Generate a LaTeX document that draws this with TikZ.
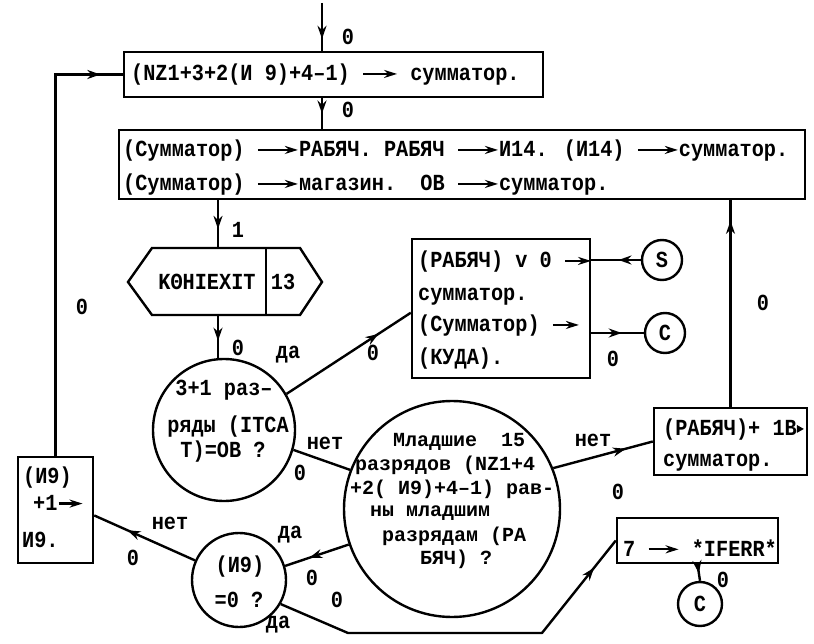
\documentclass[tikz,border=0pt]{standalone}
\usepackage{fontspec}
\newfontfamily\tw[FakeStretch=0.88]{Liberation Mono}
\newfontfamily\twn{Liberation Mono}
\usetikzlibrary{arrows.meta,decorations.markings,calc}
\newcommand\tarr[1]{\tikz[baseline=-7pt]\draw[line width=2.2pt,-{Stealth[length=13pt,width=8pt]}](0pt,0pt)--(#1,0pt);}
\newcommand\tcut{\tikz[baseline=-7pt]\fill(0pt,-4pt)--(7pt,0pt)--(0pt,4pt)--cycle;}
\begin{document}
\begin{tikzpicture}[x=1pt,y=-1pt,
  txt/.style={font=\tw\bfseries\fontsize{23}{26}\selectfont, inner sep=0pt},
  btxt/.style={font=\twn\bfseries\fontsize{20}{23}\selectfont, inner sep=0pt},
  box/.style={draw, line width=2.4pt, inner sep=0pt},
  circ/.style={draw, circle, line width=2.4pt, inner sep=0pt, font=\tw\bfseries\fontsize{23}{26}\selectfont},
  conn/.style={line width=2.4pt},
  marr/.style={decoration={markings, mark=at position #1 with {\arrow{Stealth[length=13pt,width=9pt]}}}, postaction={decorate}}]
\useasboundingbox (0,0) rectangle (814,644);
\fill[white] (0,0) rectangle (814,644);

% boxes
\node[box, minimum width=419pt, minimum height=45pt] (b1) at (333.5,74.5) {};
\node[box, minimum width=686pt, minimum height=69pt] (b2) at (462,164.5) {};
\node[box, minimum width=178pt, minimum height=139pt] (b3) at (501,308.5) {};
\node[box, minimum width=153pt, minimum height=67pt] (b4) at (730.5,441.5) {};
\node[box, minimum width=75pt, minimum height=106pt] (b9) at (55.5,510) {};
\node[box, minimum width=161pt, minimum height=45pt] (b5) at (697.5,540.5) {};

% circles
\node[circ, minimum size=142pt] (c1) at (224,430) {};
\node[circ, minimum size=216pt] (big) at (452,509) {};
\node[circ, minimum size=94pt] (c2) at (239,580) {};
\node[circ, minimum size=40pt] (S) at (662,260) {S};
\node[circ, minimum size=40pt] (C1) at (665,333) {C};
\node[circ, minimum size=44pt] (C2) at (700,604) {C};

% hexagon
\draw[line width=2.4pt, line join=miter] (128,282) -- (152,248) -- (300,248) -- (322,282) -- (300,315) -- (152,315) -- cycle;
\draw[line width=2.4pt] (266,248) -- (266,315);
\coordinate (hxT) at (218,248);
\coordinate (hxB) at (218,315);
\coordinate (top) at (322,3);
\coordinate (k1) at (348,633);
\coordinate (k2) at (542,633);

% texts in boxes
\node[txt, anchor=west] (t1) at (131,75) {(NZ1+3+2(И 9)+4–1) \tarr{34pt} сумматор.};
\node[txt, anchor=west] (t2a) at (123,151) {(Сумматор) \tarr{40pt}РАБЯЧ. РАБЯЧ \tarr{40pt}И14. (И14) \tarr{40pt}сумматор.};
\node[txt, anchor=west] (t2b) at (123,185) {(Сумматор) \tarr{40pt}магазин.\ \ ОВ \tarr{40pt}сумматор.};
\node[txt] (th1) at (207,282) {KΘHIEXIT};
\node[txt] (th2) at (283,282) {13};
\node[txt, anchor=west] (t3a) at (418,262) {(РАБЯЧ) v 0 \tarr{26pt}};
\node[txt, anchor=west] (t3b) at (418,297) {сумматор.};
\node[txt, anchor=west] (t3c) at (418,326) {(Сумматор) \tarr{26pt}};
\node[txt, anchor=west] (t3d) at (418,359) {(КУДА).};
\node[txt, anchor=west] (t4a) at (663,430) {(РАБЯЧ)+ 1В\tcut};
\node[txt, anchor=west] (t4b) at (663,463) {сумматор.};
\node[txt, anchor=west] (t9a) at (23,478) {(И9)};
\node[txt, anchor=west] (t9b) at (33,503) {+1\tarr{24pt}};
\node[txt, anchor=west] (t9c) at (22,540) {И9.};
\node[txt, anchor=west] (t5) at (623,548) {7 \tarr{30pt} *IFERR*};

% texts in circles
\node[txt] (tc1a) at (224,390) {3+1 раз–};
\node[txt] (tc1b) at (228,427) {ряды (ITCA};
\node[txt] (tc1c) at (223,452) {T)=ОВ ?};
\node[txt] (tc2a) at (240,567) {(И9)};
\node[txt] (tc2b) at (239,600) {=0 ?};
\node[btxt, anchor=west] (tba) at (393,442) {Младшие\ \ 15};
\node[btxt, anchor=west] (tbb) at (355,465) {разрядов (NZ1+4};
\node[btxt, anchor=west] (tbc) at (350,489) {+2( И9)+4–1) рав-};
\node[btxt, anchor=west] (tbd) at (370,513) {ны младшим};
\node[btxt, anchor=west] (tbe) at (382,536) {разрядам (РА};
\node[btxt, anchor=west] (tbf) at (420,559) {БЯЧ) ?};

% connectors
\draw[conn, marr=0.75] (top) -- (top |- b1.north);
\draw[conn, marr=0.5] (b1.south -| top) -- (b2.north -| top);
\draw[conn, marr=0.6] (b2.south -| hxT) -- (hxT);
\draw[conn, marr=0.6] (hxB) -- (c1.north -| hxB);
\draw[conn, marr=0.74] (c1.30) -- ($(b3.north west)!0.53!(b3.south west)$);
\draw[conn, marr=0.45] (S.west) -- (S.west -| b3.east);
\draw[conn, marr=0.58] (C1.west -| b3.east) -- (C1.west);
\draw[conn, marr=0.9] (b4.north) -- (b4.north |- b2.south);
\draw[conn] (c1.-16) -- (big.159);
\draw[conn, marr=0.73] (big.22) -- (b4.west);
\draw[conn, marr=0.62] (big.199) -- (c2.17);
\draw[conn, marr=0.67] (c2.156) -- ($(b9.north east)!0.55!(b9.south east)$);
\draw[conn, marr=0.95] (b9.north) |- (b1.west);
\draw[conn, marr=0.91, line join=round] (c2.-30) -- (k1) -- (k2) -- (b5.west);
\draw[conn, marr=0.55] (b5.south) -- (C2.north);

% labels
\node[txt] (l1) at (348,37) {0};
\node[txt] (l2) at (348,110) {0};
\node[txt] (l3) at (238,230) {1};
\node[txt] (l4) at (82,307) {0};
\node[txt] (l5) at (238,348) {0};
\node[txt] (l6) at (288,355) {да};
\node[txt] (l7) at (373,353) {0};
\node[txt] (l8) at (613,359) {0};
\node[txt] (l9) at (763,303) {0};
\node[txt] (l10) at (325,443) {нет};
\node[txt] (l11) at (300,473) {0};
\node[txt] (l12) at (593,440) {нет};
\node[txt] (l13) at (618,492) {0};
\node[txt] (l14) at (290,535) {да};
\node[txt] (l15) at (312,578) {0};
\node[txt] (l16) at (337,600) {0};
\node[txt] (l17) at (170,523) {нет};
\node[txt] (l18) at (133,558) {0};
\node[txt] (l19) at (278,625) {да};
\node[txt] (l20) at (723,580) {0};
\end{tikzpicture}
\end{document}
